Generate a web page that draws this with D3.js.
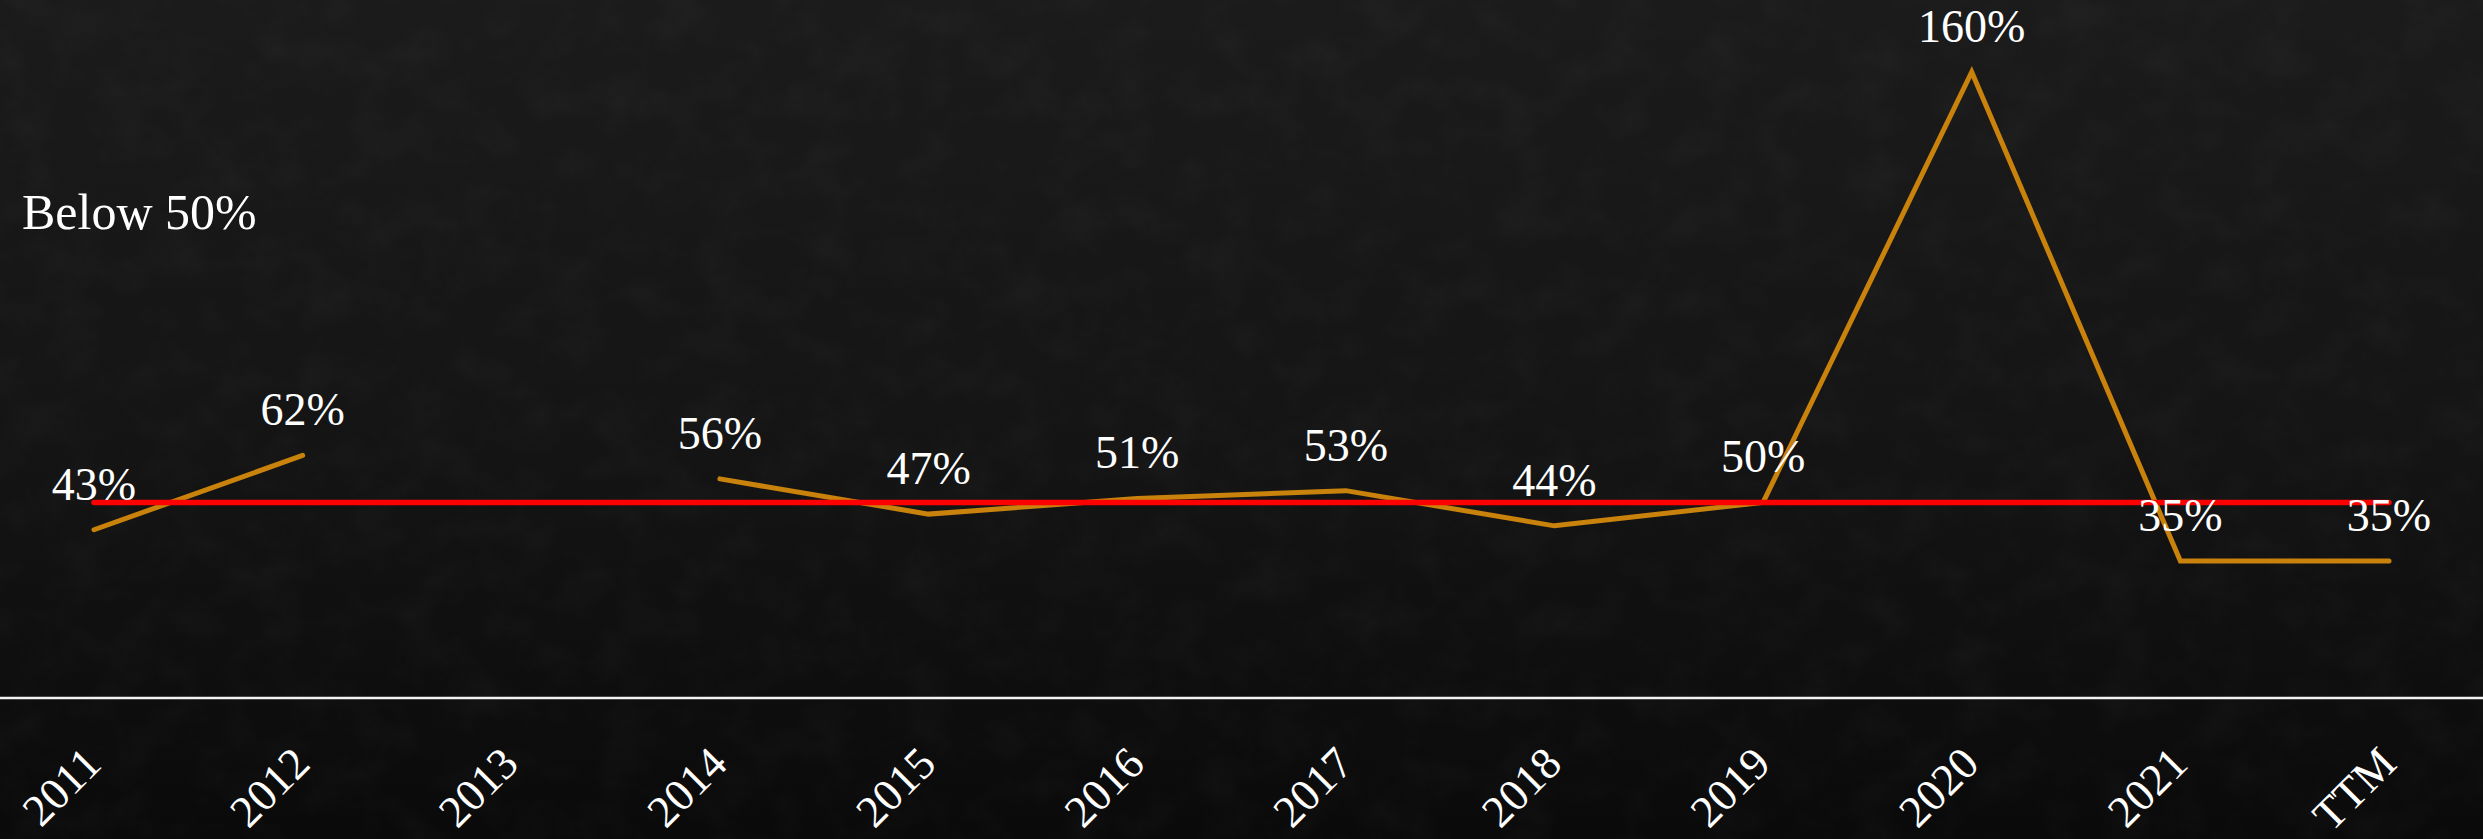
<!DOCTYPE html>
<html>
<head>
<meta charset="utf-8">
<script src="https://cdn.jsdelivr.net/npm/d3@7"></script>
<style>
  html, body { margin: 0; padding: 0; background: #101010; overflow: hidden; }
  svg { display: block; }
  text { font-family: "Liberation Serif", "DejaVu Serif", serif; fill: #ffffff; }
</style>
</head>
<body>
<script>
// Yearly payout ratio (%), 2013 not reported
const categories = ["2011", "2012", "2013", "2014", "2015", "2016", "2017", "2018", "2019", "2020", "2021", "TTM"];
const payoutRatio = [43, 62, null, 56, 47, 51, 53, 44, 50, 160, 35, 35];
const threshold = 50;
const thresholdLabel = "Below 50%";
const yDomain = [0, 160];

const W = 2483, H = 839;

const svg = d3.select("body").append("svg")
  .attr("width", W).attr("height", H);

// chalkboard-style background
const defs = svg.append("defs");
const bg = defs.append("linearGradient").attr("id", "bg")
  .attr("x1", 0).attr("y1", 0).attr("x2", 0).attr("y2", 1);
bg.append("stop").attr("offset", "0%").attr("stop-color", "#1b1b1b");
bg.append("stop").attr("offset", "55%").attr("stop-color", "#141414");
bg.append("stop").attr("offset", "100%").attr("stop-color", "#0a0a0a");

const grain = defs.append("filter").attr("id", "grain")
  .attr("x", 0).attr("y", 0).attr("width", "100%").attr("height", "100%");
grain.append("feTurbulence").attr("type", "fractalNoise")
  .attr("baseFrequency", "0.02 0.025").attr("numOctaves", 4).attr("seed", 7);
grain.append("feColorMatrix").attr("type", "matrix")
  .attr("values", "0 0 0 0 1  0 0 0 0 1  0 0 0 0 1  0 0 0 0.9 -0.35");

svg.append("rect").attr("width", W).attr("height", H).attr("fill", "url(#bg)");
svg.append("rect").attr("width", W).attr("height", H)
  .attr("filter", "url(#grain)").attr("opacity", 0.05);

// scales
const x = d3.scalePoint().domain(categories).range([94, 2389]);
const y = d3.scaleLinear().domain(yDomain).range([698, 72]);

// category axis
const axis = svg.append("g")
  .attr("transform", `translate(0,${y(0)})`)
  .call(d3.axisBottom(x).tickSize(0).tickPadding(0));
axis.select(".domain")
  .attr("d", `M0,0H${W}`)
  .attr("stroke", "#f2f2f2")
  .attr("stroke-width", 2.5);
axis.selectAll(".tick text")
  .attr("x", 0).attr("y", 0).attr("dy", null)
  .attr("text-anchor", "end")
  .attr("transform", "translate(9,68) rotate(-45)")
  .style("font-family", "'Liberation Serif', serif")
  .style("font-size", "45px")
  .attr("fill", "#ffffff");

// payout ratio series
const pts = categories.map((c, i) => ({ c, v: payoutRatio[i] }));
const line = d3.line()
  .defined(d => d.v != null)
  .x(d => x(d.c))
  .y(d => y(d.v));

svg.append("path")
  .datum(pts)
  .attr("d", line)
  .attr("fill", "none")
  .attr("stroke", "#c9820c")
  .attr("stroke-width", 5)
  .attr("stroke-linecap", "round")
  .attr("stroke-linejoin", "miter");

// 50% reference line
svg.append("line")
  .attr("x1", x(categories[0]))
  .attr("x2", x(categories[categories.length - 1]))
  .attr("y1", y(threshold)).attr("y2", y(threshold))
  .attr("stroke", "#ff0000")
  .attr("stroke-width", 5.5)
  .attr("stroke-linecap", "round");

// value labels
svg.append("g").selectAll("text")
  .data(pts.filter(d => d.v != null))
  .join("text")
  .attr("x", d => x(d.c))
  .attr("y", d => y(d.v) - 30)
  .attr("text-anchor", "middle")
  .style("font-size", "46px")
  .text(d => d.v + "%");

// reference line caption
svg.append("text")
  .attr("x", 22).attr("y", 229)
  .style("font-size", "50px")
  .text(thresholdLabel);
</script>
</body>
</html>
